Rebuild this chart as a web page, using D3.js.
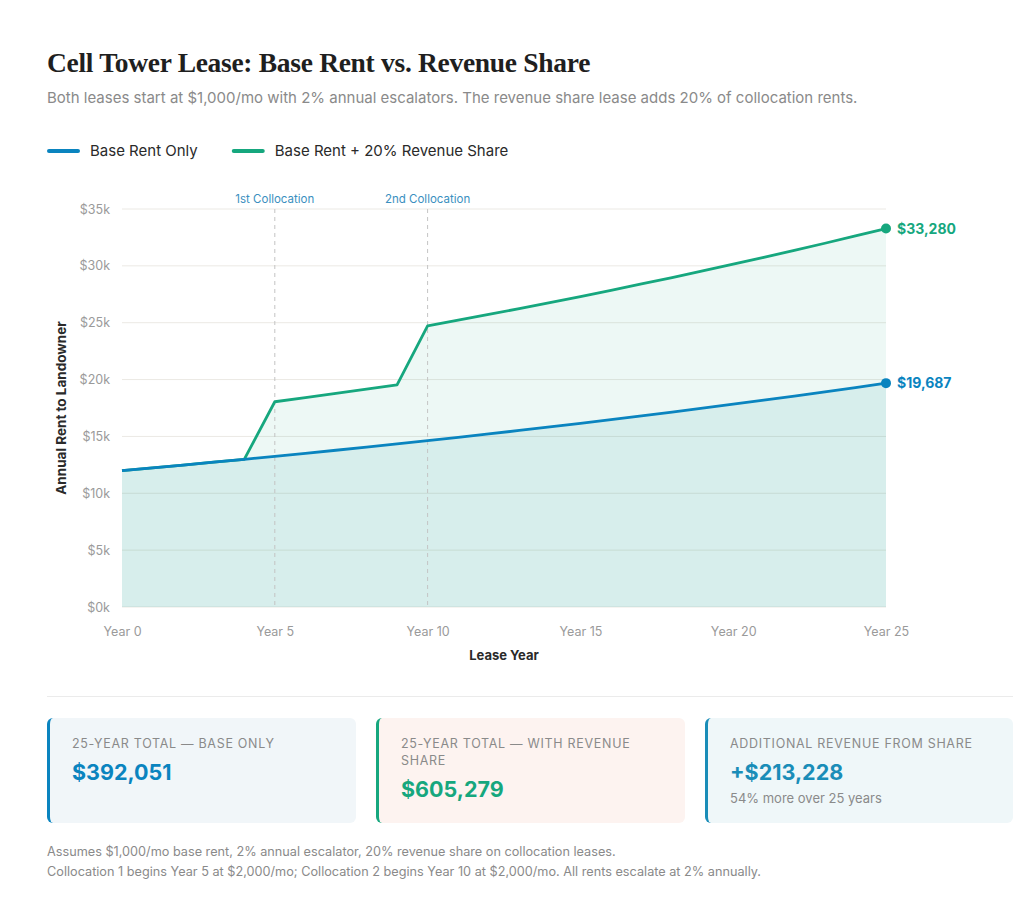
<!DOCTYPE html>
<html>
<head>
<meta charset="utf-8">
<script src="https://cdn.jsdelivr.net/npm/d3@7"></script>
<style>
  body { margin: 0; background: #fff; font-family: Inter, "Noto Sans", sans-serif; }
  #page { position: relative; width: 1024px; height: 914px; }
  .title { position: absolute; left: 47px; top: 47px; font-family: "Liberation Serif", serif; font-weight: bold; font-size: 27.5px; color: #1f1f1f; letter-spacing: -0.3px; }
  .sub { position: absolute; left: 47px; top: 88px; font-size: 15px; color: #8a8a8a; }
  .sep { position: absolute; left: 47px; top: 696px; width: 966px; height: 1px; background: #ebebeb; }
  .card { position: absolute; top: 718px; height: 105px; width: 309px; border-radius: 6px; box-sizing: border-box; padding: 17px 22px 0 22px; }
  .card .lab { font-size: 12.5px; letter-spacing: 0.7px; color: #8a8a8a; line-height: 17px; }
  .card .val { font-size: 21.5px; font-weight: bold; margin-top: 7px; }
  .card .small { font-size: 13px; color: #8a8a8a; margin-top: 5px; }
  .note { position: absolute; left: 47px; font-size: 12.7px; color: #8a8a8a; }
</style>
</head>
<body>
<div id="page">
  <div class="title">Cell Tower Lease: Base Rent vs. Revenue Share</div>
  <div class="sub">Both leases start at $1,000/mo with 2% annual escalators. The revenue share lease adds 20% of collocation rents.</div>
  <svg id="chart" width="1024" height="690" style="position:absolute;left:0;top:0"></svg>
  <div class="sep"></div>
  <div class="card" style="left:47px;background:#f1f6f9;border-left:3px solid #0a84bf">
    <div class="lab">25-YEAR TOTAL — BASE ONLY</div>
    <div class="val" style="color:#0a84bf">$392,051</div>
  </div>
  <div class="card" style="left:376px;background:#fdf3f0;border-left:3px solid #16a77e">
    <div class="lab">25-YEAR TOTAL — WITH REVENUE SHARE</div>
    <div class="val" style="color:#16a77e">$605,279</div>
  </div>
  <div class="card" style="left:705px;width:308px;background:#eff7f9;border-left:3px solid #1a8db8">
    <div class="lab">ADDITIONAL REVENUE FROM SHARE</div>
    <div class="val" style="color:#1a8db8">+$213,228</div>
    <div class="small">54% more over 25 years</div>
  </div>
  <div class="note" style="top:844px">Assumes $1,000/mo base rent, 2% annual escalator, 20% revenue share on collocation leases.</div>
  <div class="note" style="top:864px">Collocation 1 begins Year 5 at $2,000/mo; Collocation 2 begins Year 10 at $2,000/mo. All rents escalate at 2% annually.</div>
</div>
<script>
// años del contrato
const years = d3.range(0, 26);
// renta base anual
const baseRent = [12000, 12240, 12485, 12734, 12989, 13249, 13514, 13784, 14060, 14341,
  14628, 14920, 15219, 15523, 15834, 16150, 16473, 16803, 17139, 17482,
  17831, 18188, 18552, 18923, 19300, 19687];
// renta base + 20% de colocaciones
const shareRent = [12000, 12240, 12485, 12734, 12989, 18049, 18410, 18778, 19154, 19537,
  24728, 25222, 25727, 26241, 26767, 27302, 27848, 28405, 28973, 29553,
  30144, 30747, 31362, 31989, 32628, 33280];
const yTicks = [0, 5000, 10000, 15000, 20000, 25000, 30000, 35000];
const xTicks = [0, 5, 10, 15, 20, 25];
const events = [{ year: 5, label: '1st Collocation' }, { year: 10, label: '2nd Collocation' }];
const series = [
  { name: 'Base Rent Only', values: baseRent, color: '#0a84bf' },
  { name: 'Base Rent + 20% Revenue Share', values: shareRent, color: '#16a77e' }
];

const svg = d3.select('#chart');
const x = d3.scaleLinear().domain([0, 25]).range([122, 886]);
const y = d3.scaleLinear().domain([0, 35000]).range([607, 209]);

// leyenda
const leg = svg.append('g');
let lx = 47;
series.forEach(s => {
  leg.append('line').attr('x1', lx + 2).attr('x2', lx + 31).attr('y1', 151).attr('y2', 151)
    .attr('stroke', s.color).attr('stroke-width', 4).attr('stroke-linecap', 'round');
  const t = leg.append('text').attr('x', lx + 43).attr('y', 156).attr('font-size', 15)
    .attr('fill', '#2a2a2a').text(s.name);
  lx += 43 + t.node().getComputedTextLength() + 34;
});

// rejilla
svg.append('g').selectAll('line').data(yTicks).enter().append('line')
  .attr('x1', x(0)).attr('x2', x(25)).attr('y1', d => y(d)).attr('y2', d => y(d))
  .attr('stroke', '#ebe9e4').attr('stroke-width', 1);

// áreas
const area = v => d3.area().x((d, i) => x(years[i])).y0(y(0)).y1(d => y(d))(v);
svg.append('path').attr('d', area(shareRent)).attr('fill', '#16a77e').attr('fill-opacity', 0.08);
svg.append('path').attr('d', area(baseRent)).attr('fill', '#1a9a9a').attr('fill-opacity', 0.1);

// líneas de colocación
events.forEach(e => {
  svg.append('line').attr('x1', x(e.year)).attr('x2', x(e.year)).attr('y1', y(35000)).attr('y2', y(0))
    .attr('stroke', '#c4c4c4').attr('stroke-width', 1).attr('stroke-dasharray', '4,4');
  svg.append('text').attr('x', x(e.year)).attr('y', 203).attr('text-anchor', 'middle')
    .attr('font-size', 11.5).attr('fill', '#3a8fc0').text(e.label);
});

// ejes
const yAxis = svg.append('g').attr('transform', `translate(${x(0)},0)`)
  .call(d3.axisLeft(y).tickValues(yTicks).tickSize(0).tickPadding(12).tickFormat(d => '$' + d / 1000 + 'k'));
yAxis.select('.domain').remove();
yAxis.selectAll('text').attr('font-size', 12.5).attr('fill', '#9a9a9a').attr('font-family', 'Inter, sans-serif');

const xAxis = svg.append('g').attr('transform', `translate(0,${y(0)})`)
  .call(d3.axisBottom(x).tickValues(xTicks).tickSize(0).tickPadding(20).tickFormat(d => 'Year ' + d));
xAxis.select('.domain').remove();
xAxis.selectAll('text').attr('font-size', 12.5).attr('fill', '#9a9a9a').attr('font-family', 'Inter, sans-serif');

svg.append('text').attr('x', (x(0) + x(25)) / 2).attr('y', 660).attr('text-anchor', 'middle')
  .attr('font-size', 13).attr('font-weight', 'bold').attr('fill', '#2a2a2a').text('Lease Year');
svg.append('text').attr('transform', `translate(66,${(y(0) + y(35000)) / 2}) rotate(-90)`)
  .attr('text-anchor', 'middle').attr('font-size', 13.5).attr('font-weight', 'bold').attr('fill', '#2a2a2a')
  .text('Annual Rent to Landowner');

// series
const line = d3.line().x((d, i) => x(years[i])).y(d => y(d));
[series[1], series[0]].forEach(s => {
  svg.append('path').attr('d', line(s.values)).attr('fill', 'none')
    .attr('stroke', s.color).attr('stroke-width', 2.8).attr('stroke-linejoin', 'round');
});
series.forEach(s => {
  const last = s.values[s.values.length - 1];
  svg.append('circle').attr('cx', x(25)).attr('cy', y(last)).attr('r', 5).attr('fill', s.color);
  svg.append('text').attr('x', x(25) + 11).attr('y', y(last) + 5).attr('font-size', 14)
    .attr('font-weight', 'bold').attr('fill', s.color).text('$' + d3.format(',')(last));
});
</script>
</body>
</html>
